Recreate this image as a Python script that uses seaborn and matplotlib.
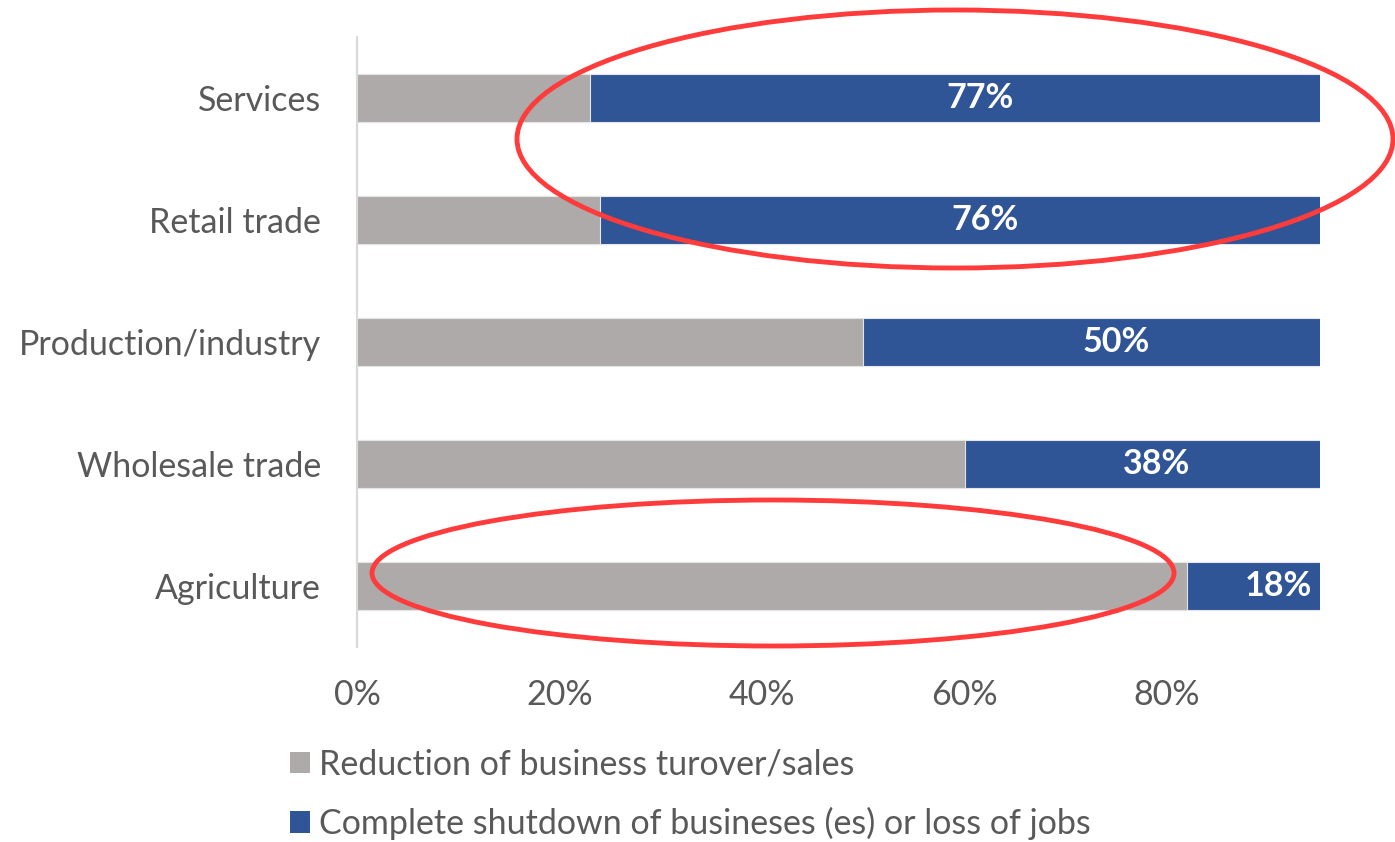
import matplotlib
matplotlib.use("Agg")
import matplotlib.pyplot as plt
from matplotlib.patches import Patch, Ellipse
import seaborn as sns
import pandas as pd

categories = ["Services", "Retail trade", "Production/industry", "Wholesale trade", "Agriculture"]
reduction = [23, 24, 50, 60, 82]
shutdown = [77, 76, 50, 38, 18]
series_names = ["Reduction of business turover/sales",
                "Complete shutdown of busineses (es) or loss of jobs"]
tick_vals = [0, 20, 40, 60, 80]
tick_labels = ["0%", "20%", "40%", "60%", "80%"]

GRAY = "#AEAAAA"
BLUE = "#2F5597"
TXT = "#595959"
FONT = ["Lato", "DejaVu Sans"]
FS = 24.5

sns.set_style("white")
plt.rcParams["font.family"] = FONT

df = pd.DataFrame({"cat": categories, "red": reduction, "shut": shutdown})
df["total"] = df["red"] + df["shut"]

W, H = 1395, 842
fig = plt.figure(figsize=(W / 100, H / 100), dpi=100)
ax = fig.add_axes([357 / W, 1 - 647 / H, (1320 - 357) / W, (647 - 37) / H])

sns.barplot(data=df, x="total", y="cat", orient="h", color=BLUE, width=0.4,
            saturation=1, edgecolor="#E4E4EA", linewidth=0.8, ax=ax)
sns.barplot(data=df, x="red", y="cat", orient="h", color=GRAY, width=0.4,
            saturation=1, edgecolor="#E4E4E4", linewidth=0.8, ax=ax)

ax.set_xlim(0, 95.1)
ax.set_ylim(4.5, -0.5)
ax.set_xlabel("")
ax.set_ylabel("")
ax.set_xticks(tick_vals)
ax.set_xticklabels(tick_labels)
ax.tick_params(axis="both", length=0, labelsize=FS, colors=TXT)
ax.tick_params(axis="y", pad=26)
ax.tick_params(axis="x", pad=23)
for s in ["top", "right", "bottom"]:
    ax.spines[s].set_visible(False)
ax.spines["left"].set_color("#D9D9D9")
ax.spines["left"].set_linewidth(1.5)

for i, (r, s) in enumerate(zip(reduction, shutdown)):
    ax.text(r + s / 2, i, f"{s}%", ha="center", va="center", color="white",
            fontsize=FS, fontweight="bold", clip_on=False)

handles = [Patch(facecolor=GRAY, edgecolor="none"), Patch(facecolor=BLUE, edgecolor="none")]
leg = fig.legend(handles, series_names, loc="upper left",
                 bbox_to_anchor=(276 / W, 1 - 735 / H), frameon=False,
                 fontsize=FS, handlelength=0.6, handleheight=0.6,
                 handletextpad=0.25, labelspacing=0.78, borderaxespad=0)
for t in leg.get_texts():
    t.set_color(TXT)

# red annotation ellipses
e1 = Ellipse((955 / W, 1 - 139 / H), 876 / W, 258 / H, transform=fig.transFigure,
             fill=False, edgecolor="#FF3B3B", linewidth=3.5)
e2 = Ellipse((773 / W, 1 - 573 / H), 802 / W, 146 / H, transform=fig.transFigure,
             fill=False, edgecolor="#FF3B3B", linewidth=3.5)
fig.add_artist(e1)
fig.add_artist(e2)

fig.savefig("out.png", dpi=100)
